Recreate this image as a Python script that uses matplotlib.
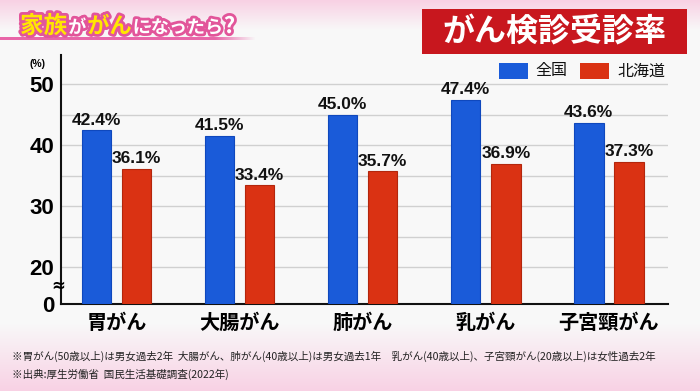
import numpy as np
import matplotlib.pyplot as plt
import matplotlib.patheffects as pe
import matplotlib.transforms as mtransforms
from matplotlib.patches import Rectangle
from matplotlib.ticker import NullFormatter

plt.rcParams['font.family'] = ['Noto Sans CJK JP', 'DejaVu Sans']

# data
categories = ['胃がん', '大腸がん', '肺がん', '乳がん', '子宮頸がん']
national = [42.4, 41.5, 45.0, 47.4, 43.6]
hokkaido = [36.1, 33.4, 35.7, 36.9, 37.3]
series_names = ['全国', '北海道']
yticks = [0, 20, 30, 40, 50]
grid_vals = [20, 25, 30, 35, 40, 45, 50]

blue = '#1a5bd9'
red = '#da3213'

W, H = 700, 391
fig = plt.figure(figsize=(7, 3.91), dpi=100)

# background: light grey with pink gradient at top and bottom
bg = fig.add_axes([0, 0, 1, 1], zorder=-10)
rows = np.arange(H)
t = np.maximum(np.clip(1 - rows / 30, 0, 1), np.clip((rows - 322) / 69, 0, 1))[:, None]
base = np.array([0.975, 0.975, 0.975])
pink = np.array([0.975, 0.82, 0.895])
img = base * (1 - t) + pink * t
bg.imshow(img[:, None, :], aspect='auto', extent=[0, 1, 0, 1])
bg.axis('off')

# pink underline under the title
ul = fig.add_axes([0, 1 - 40 / H, 255 / W, 3 / H], zorder=-5)
fade = np.clip((255 - np.arange(255)) / 40, 0, 1)
line = np.zeros((1, 255, 4))
line[..., :3] = [0.91, 0.40, 0.66]
line[0, :, 3] = fade
ul.imshow(line, aspect='auto', extent=[0, 1, 0, 1])
ul.axis('off')

# main axes with a compressed 0-20 range
ax = fig.add_axes([61 / W, 1 - 304 / H, (668 - 61) / W, (304 - 55) / H])
ax.patch.set_alpha(0)


def fwd(v):
    v = np.asarray(v, dtype=float)
    return np.where(v < 20, v * 0.3, v - 14)


def inv(y):
    y = np.asarray(y, dtype=float)
    return np.where(y < 6, y / 0.3, y + 14)


ax.set_yscale('function', functions=(fwd, inv))

x = np.arange(len(categories))
w = 0.24
off = 0.163
ax.bar(x - off, national, w, color=blue, edgecolor='#0f48bd', linewidth=0.8, zorder=3)
ax.bar(x + off, hokkaido, w, color=red, edgecolor='#b3260c', linewidth=0.8, zorder=3)

for xi, v in zip(x - off, national):
    ax.annotate(f'{v:.1f}%', (xi, v), xytext=(0, 2), textcoords='offset points',
                ha='center', va='bottom', fontsize=12.5, fontweight='bold',
                family='Liberation Sans', color='#111111')
for xi, v in zip(x + off, hokkaido):
    ax.annotate(f'{v:.1f}%', (xi, v), xytext=(0, 2), textcoords='offset points',
                ha='center', va='bottom', fontsize=12.5, fontweight='bold',
                family='Liberation Sans', color='#111111')

ax.set_xlim(-0.45, 4.48)
ax.set_ylim(0, 54.75)

ax.set_yticks(yticks)
ax.set_yticklabels([str(v) for v in yticks], fontsize=16, fontweight='bold',
                   family='Liberation Sans')
ax.set_yticks(grid_vals, minor=True)
ax.yaxis.remove_overlapping_locs = False
ax.yaxis.set_minor_formatter(NullFormatter())
ax.grid(which='minor', axis='y', color='#d0d0d0', linewidth=1, zorder=0)
ax.tick_params(axis='y', which='both', length=0, pad=5)

ax.set_xticks(x)
ax.set_xticklabels(categories, fontsize=14.5, fontweight='bold')
ax.tick_params(axis='x', length=0, pad=6)

for s in ['top', 'right']:
    ax.spines[s].set_visible(False)
for s in ['left', 'bottom']:
    ax.spines[s].set_linewidth(1.5)
    ax.spines[s].set_color('#111111')

# axis break mark
trans = mtransforms.blended_transform_factory(ax.transAxes, ax.transData)
ax.text(-0.005, 10, '≈', transform=trans, ha='center', va='center',
        fontsize=12, fontweight='bold', family='DejaVu Sans', clip_on=False)
fig.text(38 / W, 1 - 64 / H, '(%)', ha='center', va='center', fontsize=7.5,
         fontweight='bold', family='Liberation Sans')

# legend
for px, tx, col, name in [(499, 535, blue, series_names[0]), (580, 617, red, series_names[1])]:
    fig.patches.append(Rectangle((px / W, 1 - 79 / H), 29 / W, 16 / H,
                                 transform=fig.transFigure, facecolor=col,
                                 edgecolor='none'))
    fig.text(tx / W, 1 - 71 / H, name, ha='left', va='center', fontsize=11.5,
             color='#111111')

# red title box
fig.patches.append(Rectangle((422 / W, 1 - 54 / H), 265 / W, 45 / H,
                             transform=fig.transFigure, facecolor='#c8171e',
                             edgecolor='none'))
fig.text(554 / W, 1 - 32 / H, 'がん検診受診率', ha='center', va='center',
         fontsize=23, fontweight='bold', color='white')

# headline with mixed colours
renderer = fig.canvas.get_renderer()
pieces = [('家族', '#ffe600', 17), ('が', 'white', 13), ('がん', '#ffe600', 16),
          ('になったら', 'white', 13), ('?', 'white', 16)]
xpos = 20
for s, col, size in pieces:
    tt = fig.text(xpos / W, 1 - 33 / H, s, color=col, fontsize=size,
                  fontweight='bold', va='baseline',
                  path_effects=[pe.withStroke(linewidth=4, foreground='#e2559a')])
    bb = tt.get_window_extent(renderer)
    xpos = bb.x1 + 1

# footnotes
fig.text(12 / W, 1 - 356 / H,
         '※胃がん(50歳以上)は男女過去2年  大腸がん、肺がん(40歳以上)は男女過去1年　'
         '乳がん(40歳以上)、子宮頸がん(20歳以上)は女性過去2年',
         ha='left', va='center', fontsize=7.6, color='#222222')
fig.text(12 / W, 1 - 374 / H, '※出典:厚生労働省  国民生活基礎調査(2022年)',
         ha='left', va='center', fontsize=7.6, color='#222222')

fig.savefig('out.png', dpi=100)
